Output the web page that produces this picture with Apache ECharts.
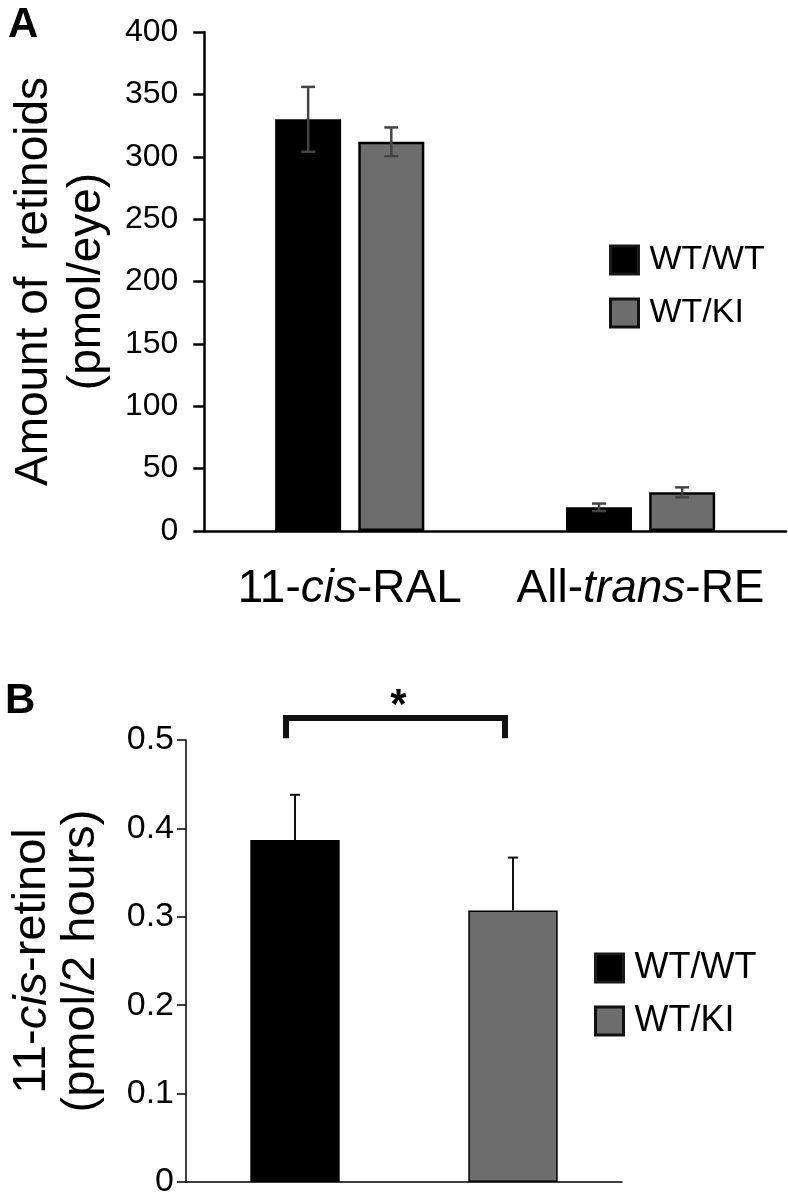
<!DOCTYPE html>
<html>
<head>
<meta charset="utf-8">
<script src="https://cdn.jsdelivr.net/npm/echarts@6/dist/echarts.min.js"></script>
<style>
html, body { margin: 0; padding: 0; background: #fff; }
#chart { width: 788px; height: 1199px; }
</style>
</head>
<body>
<div id="chart"></div>
<script>
// panel A: retinoid amounts (pmol/eye)
const catsA = ["11-cis-RAL", "All-trans-RE"];
const wtA = [330, 19];
const wtAErr = [26, 3];
const kiA = [312, 31];
const kiAErr = [11.5, 4];
const yTicksA = [0, 400, 50];

// panel B: 11-cis-retinol (pmol/2 hours)
const catsB = ["WT/WT", "WT/KI"];
const wtB = [0.387, "-"];
const kiB = ["-", 0.307];
const errB = [0.051, 0.06];
const yTicksB = [0, 0.5, 0.1];
const sigB = [0, 1, 0.525, 0.502]; // from cat, to cat, bracket level, leg end

const FONT = "Liberation Sans, Arial, sans-serif";
const BAR_A = 66, GAP_A = 0.26;

const myChart = echarts.init(document.getElementById("chart"), null, { renderer: "canvas" });

// error bar drawn around a bar, offset in px from the category centre
function errBar(offset, halfCap, upperOnly, color, lw) {
  return function (params, api) {
    const c = api.value(0), v = api.value(1), e = api.value(2);
    const top = api.coord([c, v + e]);
    const bot = api.coord([c, upperOnly ? v : v - e]);
    const x = top[0] + offset;
    const st = { stroke: color, lineWidth: lw };
    const kids = [
      { type: "line", shape: { x1: x, y1: top[1], x2: x, y2: bot[1] }, style: st },
      { type: "line", shape: { x1: x - halfCap, y1: top[1], x2: x + halfCap, y2: top[1] }, style: st }
    ];
    if (!upperOnly) {
      kids.push({ type: "line", shape: { x1: x - halfCap, y1: bot[1], x2: x + halfCap, y2: bot[1] }, style: st });
    }
    return { type: "group", children: kids };
  };
}

const catRich = {
  n: { fontSize: 46, fontFamily: FONT, color: "#000" },
  i: { fontSize: 46, fontFamily: FONT, fontStyle: "italic", color: "#000" }
};
const catLabel = {
  "11-cis-RAL": "{n|11-}{i|cis}{n|-RAL}",
  "All-trans-RE": "{n|All-}{i|trans}{n|-RE}"
};

const off = (BAR_A + BAR_A * GAP_A) / 2;

myChart.setOption({
  animation: false,
  backgroundColor: "#fff",
  textStyle: { fontFamily: FONT },
  graphic: [
    { type: "text", left: 8, top: 4, style: { text: "A", font: "bold 42px " + FONT, fill: "#000" } },
    { type: "text", left: 5, top: 680, style: { text: "B", font: "bold 42px " + FONT, fill: "#000" } }
  ],
  grid: [
    { left: 193, top: 32, width: 593, height: 499 },
    { left: 177, top: 740, width: 445, height: 444 }
  ],
  legend: [
    {
      orient: "vertical", left: 604, top: 238, itemWidth: 28, itemHeight: 28, itemGap: 19,
      icon: "rect",
      textStyle: { fontSize: 34, fontFamily: FONT, color: "#000", lineHeight: 28, padding: [0, 0, 0, 6] },
      data: [
        { name: "WT/WT", itemStyle: { color: "#000", borderColor: "#1a1a1a", borderWidth: 3 } },
        { name: "WT/KI", itemStyle: { color: "#6d6d6d", borderColor: "#111", borderWidth: 3 } }
      ]
    },
    {
      orient: "vertical", left: 589, top: 945, itemWidth: 28, itemHeight: 28, itemGap: 17,
      icon: "rect",
      textStyle: { fontSize: 36, fontFamily: FONT, color: "#000", lineHeight: 28, padding: [0, 0, 0, 6] },
      data: [
        { name: "WT/WT ", itemStyle: { color: "#000", borderColor: "#1a1a1a", borderWidth: 3 } },
        { name: "WT/KI ", itemStyle: { color: "#6d6d6d", borderColor: "#111", borderWidth: 3 } }
      ]
    }
  ],
  xAxis: [
    {
      type: "category", gridIndex: 0, data: catsA,
      axisLine: { lineStyle: { color: "#000", width: 2.5 } },
      axisTick: { length: 16, lineStyle: { color: "#000", width: 2.5 } },
      axisLabel: { margin: 35, formatter: v => catLabel[v], rich: catRich }
    },
    {
      type: "category", gridIndex: 1, data: catsB,
      axisLine: { lineStyle: { color: "#000", width: 1.5 } },
      axisTick: { length: 12, lineStyle: { color: "#000", width: 1.5 } },
      axisLabel: { show: false }
    }
  ],
  yAxis: [
    {
      type: "value", gridIndex: 0, min: yTicksA[0], max: yTicksA[1], interval: yTicksA[2],
      splitLine: { show: false },
      axisLine: { show: true, lineStyle: { color: "#000", width: 2.5 } },
      axisTick: { show: true, length: 11, lineStyle: { color: "#000", width: 2.5 } },
      axisLabel: { margin: 26, fontSize: 32, fontFamily: FONT, color: "#000" },
      name: "{n|Amount of  retinoids}\n{n|(pmol/eye)}",
      nameLocation: "middle", nameGap: 90, nameRotate: 90,
      nameTextStyle: {
        lineHeight: 53,
        rich: { n: { fontSize: 46, fontFamily: FONT, color: "#000", lineHeight: 53 } }
      }
    },
    {
      type: "value", gridIndex: 1, min: yTicksB[0], max: yTicksB[1], interval: yTicksB[2],
      splitLine: { show: false },
      axisLine: { show: true, lineStyle: { color: "#000", width: 1.5 } },
      axisTick: { show: true, length: 9, lineStyle: { color: "#000", width: 1.5 } },
      axisLabel: { margin: 12, fontSize: 34, fontFamily: FONT, color: "#000" },
      name: "{n|11-}{i|cis}{n|-retinol}\n{n|(pmol/2 hours)}",
      nameLocation: "middle", nameGap: 80, nameRotate: 90,
      nameTextStyle: {
        lineHeight: 49,
        rich: {
          n: { fontSize: 47, fontFamily: FONT, color: "#000", lineHeight: 49 },
          i: { fontSize: 47, fontFamily: FONT, fontStyle: "italic", color: "#000", lineHeight: 49 }
        }
      }
    }
  ],
  series: [
    {
      name: "WT/WT", type: "bar", xAxisIndex: 0, yAxisIndex: 0, data: wtA,
      barWidth: BAR_A, barGap: (GAP_A * 100) + "%",
      itemStyle: { color: "#000" }
    },
    {
      name: "WT/KI", type: "bar", xAxisIndex: 0, yAxisIndex: 0, data: kiA,
      barWidth: BAR_A, barGap: (GAP_A * 100) + "%",
      itemStyle: { color: "#6d6d6d", borderColor: "#000", borderWidth: 2.5 }
    },
    {
      type: "custom", xAxisIndex: 0, yAxisIndex: 0, z: 5, silent: true,
      data: wtA.map((v, i) => [i, v, wtAErr[i]]),
      renderItem: errBar(-off, 7, false, "#444", 2.5)
    },
    {
      type: "custom", xAxisIndex: 0, yAxisIndex: 0, z: 5, silent: true,
      data: kiA.map((v, i) => [i, v, kiAErr[i]]),
      renderItem: errBar(off, 7, false, "#444", 2.5)
    },
    {
      name: "WT/WT ", type: "bar", xAxisIndex: 1, yAxisIndex: 1, data: wtB,
      barWidth: "41%", barGap: "-100%",
      itemStyle: { color: "#000" }
    },
    {
      name: "WT/KI ", type: "bar", xAxisIndex: 1, yAxisIndex: 1, data: kiB,
      barWidth: "41%", barGap: "-100%",
      itemStyle: { color: "#6d6d6d", borderColor: "#000", borderWidth: 1.5 }
    },
    {
      type: "custom", xAxisIndex: 1, yAxisIndex: 1, z: 5, silent: true,
      data: errB.map((e, i) => [i, i === 0 ? wtB[0] : kiB[1], e]),
      renderItem: errBar(0, 5, true, "#111", 2)
    },
    {
      type: "custom", xAxisIndex: 1, yAxisIndex: 1, z: 5, silent: true, clip: false,
      encode: { x: [0, 1], y: [2, 3] },
      data: [sigB],
      renderItem: function (params, api) {
        const a = api.coord([api.value(0), api.value(2)]);
        const b = api.coord([api.value(1), api.value(2)]);
        const leg = api.coord([api.value(0), api.value(3)])[1];
        const x1 = a[0] - 9, x2 = b[0] - 8, y = a[1];
        const st = { stroke: "#111", lineWidth: 6, fill: null, lineJoin: "miter" };
        return {
          type: "group", children: [
            { type: "polyline", shape: { points: [[x1, leg], [x1, y], [x2, y], [x2, leg]] }, style: st },
            { type: "text", style: { text: "*", x: (x1 + x2) / 2 + 3, y: y - 11, align: "center", verticalAlign: "middle", font: "bold 42px " + FONT, fill: "#000" } }
          ]
        };
      }
    }
  ]
});
window.addEventListener("resize", () => myChart.resize());
</script>
</body>
</html>
